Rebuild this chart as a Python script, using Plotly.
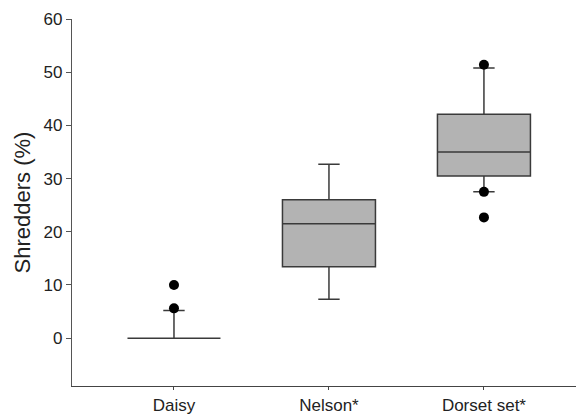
import plotly.graph_objects as go

categories = ["Daisy", "Nelson*", "Dorset set*"]
q1 = [0.0, 13.4, 30.5]
median = [0.0, 21.5, 35.0]
q3 = [0.0, 26.0, 42.1]
lower_whisker = [0.0, 7.3, 27.5]
upper_whisker = [5.2, 32.7, 50.8]
outlier_cat = ["Daisy", "Daisy", "Dorset set*", "Dorset set*", "Dorset set*"]
outlier_val = [10.0, 5.6, 51.4, 27.5, 22.7]

fig = go.Figure()
fig.add_trace(go.Box(
    x=categories, q1=q1, median=median, q3=q3,
    lowerfence=lower_whisker, upperfence=upper_whisker,
    fillcolor="#b3b3b3", line=dict(color="#3a3a3a", width=1.5),
    width=0.6, whiskerwidth=0.23, boxpoints=False, showlegend=False,
))
fig.add_trace(go.Scatter(
    x=outlier_cat, y=outlier_val, mode="markers",
    marker=dict(color="black", size=10), showlegend=False,
))

fig.update_layout(
    width=576, height=415,
    margin=dict(l=72, r=0, t=19, b=29),
    paper_bgcolor="white", plot_bgcolor="white",
    font=dict(family="Liberation Sans, Arial", color="#222", size=16),
)
fig.update_xaxes(
    type="category", range=[-0.658, 2.594], automargin=False,
    showline=True, linecolor="#444", linewidth=1.2,
    ticks="outside", ticklen=3, tickcolor="#444",
    showgrid=False, zeroline=False, tickfont=dict(size=17),
)
fig.update_yaxes(
    range=[-9, 60], tickvals=[0, 10, 20, 30, 40, 50, 60], automargin=False,
    showline=True, linecolor="#555", linewidth=1.2,
    ticks="outside", ticklen=5, tickcolor="#555",
    showgrid=False, zeroline=False, tickfont=dict(size=17),
    title=dict(text="Shredders (%)", font=dict(size=22), standoff=6),
)
fig.write_html("out.html")
